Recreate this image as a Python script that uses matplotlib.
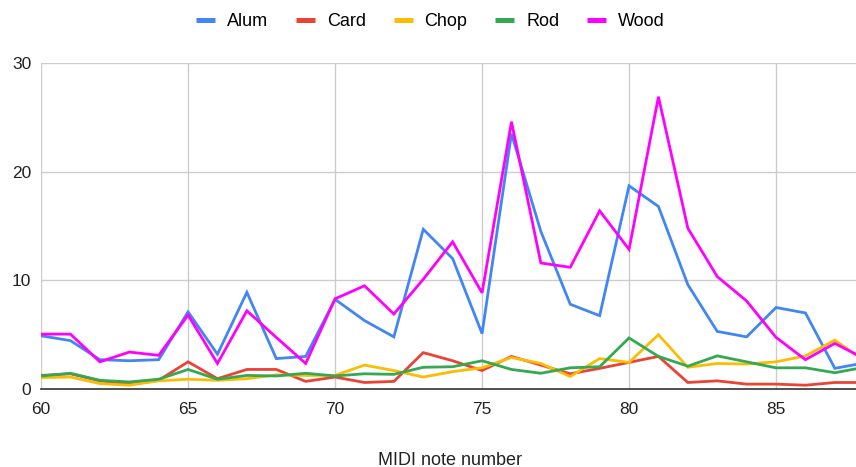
import numpy as np
import matplotlib.pyplot as plt

plt.rcParams['font.family'] = ['Liberation Sans', 'DejaVu Sans']

notes = list(range(60, 89))
alum = [4.9, 4.45, 2.7, 2.6, 2.7, 7.1, 3.2, 8.9, 2.8, 3.0, 8.25, 6.3, 4.8, 14.7, 12.0,
        5.1, 23.5, 14.5, 7.8, 6.75, 18.7, 16.8, 9.6, 5.3, 4.8, 7.5, 7.0, 1.9, 2.4]
card = [1.25, 1.4, 0.75, 0.45, 0.8, 2.5, 0.95, 1.8, 1.8, 0.7, 1.1, 0.6, 0.7, 3.35, 2.6,
        1.7, 3.0, 2.2, 1.4, 1.9, 2.45, 3.0, 0.6, 0.75, 0.45, 0.45, 0.35, 0.6, 0.6]
chop = [1.05, 1.1, 0.5, 0.35, 0.75, 0.9, 0.8, 0.95, 1.3, 1.25, 1.25, 2.2, 1.7, 1.1, 1.6,
        1.95, 2.9, 2.35, 1.15, 2.8, 2.45, 5.0, 2.0, 2.35, 2.3, 2.5, 3.05, 4.5, 2.6]
rod = [1.2, 1.45, 0.8, 0.65, 0.9, 1.8, 0.9, 1.25, 1.2, 1.45, 1.2, 1.4, 1.35, 2.0, 2.05,
       2.6, 1.8, 1.45, 1.95, 2.05, 4.7, 3.0, 2.1, 3.05, 2.5, 1.95, 1.95, 1.5, 2.0]
wood = [5.05, 5.05, 2.5, 3.4, 3.1, 6.8, 2.35, 7.2, 4.75, 2.35, 8.3, 9.5, 6.9, 10.1, 13.55,
        8.85, 24.6, 11.6, 11.2, 16.4, 12.85, 26.9, 14.8, 10.35, 8.1, 4.75, 2.7, 4.2, 2.8]

series = [('Alum', alum, '#4285F4'), ('Card', card, '#EA4335'), ('Chop', chop, '#FBBC04'),
          ('Rod', rod, '#34A853'), ('Wood', wood, '#FF00FF')]

fig = plt.figure(figsize=(8.56, 4.67), dpi=100)
ax = fig.add_axes([0.048, 0.167, 0.952, 0.698])

for name, vals, col in series:
    ax.plot(notes, vals, color=col, lw=2, label=name, solid_joinstyle='miter')

ax.set_xlim(60, 87.72)
ax.set_ylim(0, 30)
ax.set_xticks([60, 65, 70, 75, 80, 85])
ax.set_yticks([0, 10, 20, 30])
ax.grid(True, color='#cccccc', lw=1)
ax.set_axisbelow(True)
for s in ['left', 'right', 'top']:
    ax.spines[s].set_visible(False)
ax.spines['bottom'].set_color('#333333')
ax.spines['bottom'].set_linewidth(1.2)
ax.tick_params(length=0, labelsize=12.5, colors='#222222')
ax.tick_params(axis='x', pad=9)
ax.tick_params(axis='y', pad=7)

ax.set_xlabel('MIDI note number', fontsize=13, color='#222222')
ax.xaxis.label.set_va('baseline')
ax.xaxis.set_label_coords(0.502, -0.232)

leg = fig.legend(loc='center', ncol=5, frameon=False, fontsize=13,
                 bbox_to_anchor=(0.503, 1 - 22 / 467), handlelength=1.05,
                 handletextpad=0.65, columnspacing=1.55)
for h in leg.legend_handles:
    h.set_linewidth(3.6)
    h.set_solid_capstyle('butt')

fig.savefig('out.png', dpi=100)
